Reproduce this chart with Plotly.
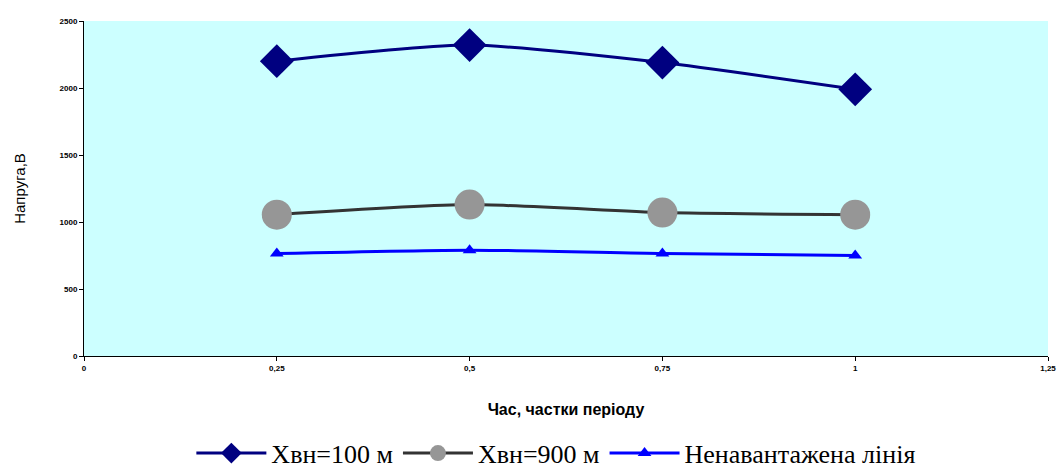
import plotly.graph_objects as go

# Time, fractions of the period
t = [0.25, 0.5, 0.75, 1.0]

# Voltage, V
u_100 = [2200, 2320, 2190, 1990]
u_900 = [1055, 1130, 1070, 1055]
u_idle = [765, 790, 765, 750]

names = ["Хвн=100 м", "Хвн=900 м", "Ненавантажена лінія"]

x_ticks = [0, 0.25, 0.5, 0.75, 1, 1.25]
x_tick_text = ["<b>0</b>", "<b>0,25</b>", "<b>0,5</b>", "<b>0,75</b>", "<b>1</b>", "<b>1,25</b>"]
y_ticks = [0, 500, 1000, 1500, 2000, 2500]
y_tick_text = ["<b>0</b>", "<b>500</b>", "<b>1000</b>", "<b>1500</b>", "<b>2000</b>", "<b>2500</b>"]

fig = go.Figure()
fig.add_trace(go.Scatter(
    x=t, y=u_100, name=names[0], mode="lines+markers",
    line=dict(color="#000080", width=3, shape="spline", smoothing=0.6),
    marker=dict(symbol="diamond", size=26, color="#000080"),
))
fig.add_trace(go.Scatter(
    x=t, y=u_900, name=names[1], mode="lines+markers",
    line=dict(color="#333333", width=3, shape="spline", smoothing=0.6),
    marker=dict(symbol="circle", size=30, color="#969696"),
))
fig.add_trace(go.Scatter(
    x=t, y=u_idle, name=names[2], mode="lines+markers",
    line=dict(color="#0000FF", width=3, shape="spline", smoothing=0.6),
    marker=dict(symbol="triangle-up", size=12, color="#0000FF"),
))

fig.update_layout(
    width=1058, height=475,
    margin=dict(l=84, r=10, t=21, b=119, autoexpand=False),
    paper_bgcolor="white",
    plot_bgcolor="#CCFFFF",
    showlegend=True,
    legend=dict(
        orientation="h", x=0.49, xanchor="center", y=-0.29, yanchor="middle",
        font=dict(family="Liberation Serif", size=26, color="black"),
        itemwidth=70, tracegroupgap=0, bgcolor="rgba(0,0,0,0)",
    ),
    xaxis=dict(
        range=[0, 1.25], tickvals=x_ticks, ticktext=x_tick_text,
        showgrid=False, zeroline=False, showline=True, linecolor="black", linewidth=1,
        ticks="outside", ticklen=4, tickcolor="black",
        tickfont=dict(family="Liberation Sans", size=8, color="black"),
        title=dict(text="<b>Час, частки періоду</b>", standoff=32,
                   font=dict(family="Liberation Sans", size=16, color="black")),
    ),
    yaxis=dict(
        range=[0, 2500], tickvals=y_ticks, ticktext=y_tick_text,
        showgrid=False, zeroline=False, showline=True, linecolor="black", linewidth=1,
        ticks="outside", ticklen=4, tickcolor="black",
        tickfont=dict(family="Liberation Sans", size=8, color="black"),
        title=dict(text="Напруга,В", standoff=30,
                   font=dict(family="Liberation Sans", size=15, color="black")),
    ),
)

fig.write_html("out.html")
